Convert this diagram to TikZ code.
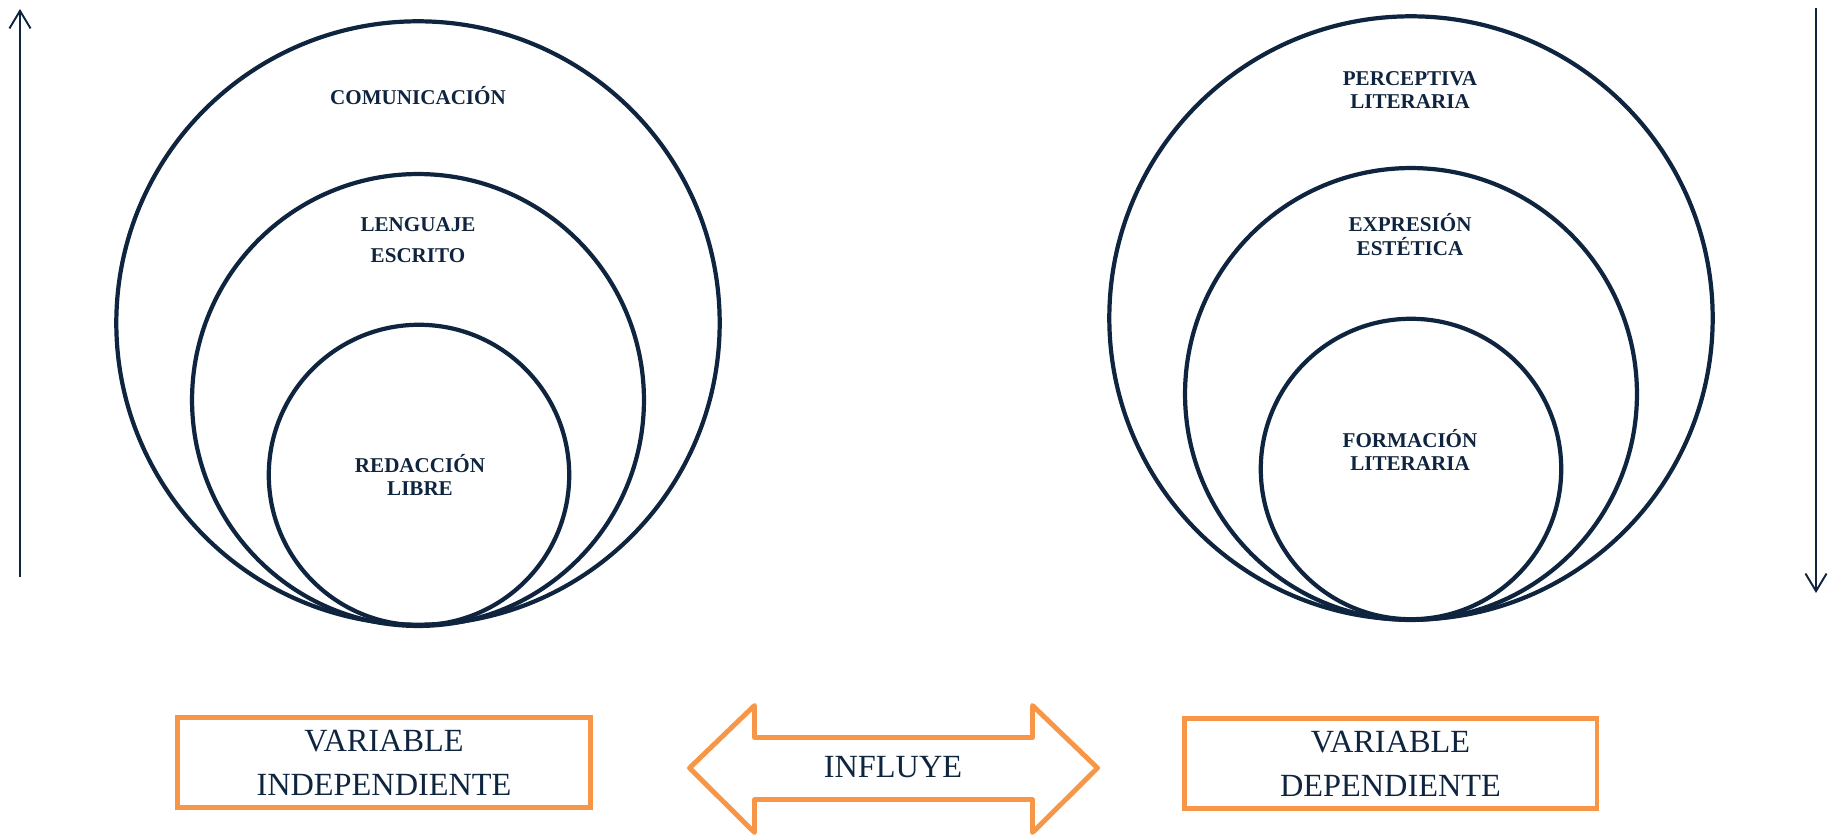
\documentclass[tikz,border=0pt]{standalone}
\usepackage{fontspec}
\setmainfont{Liberation Serif}
\usetikzlibrary{arrows.meta}
\definecolor{navy}{HTML}{0F243E}
\definecolor{naranja}{HTML}{F79646}

\begin{document}
\begin{tikzpicture}[x=0.02cm,y=-0.02cm,
  circ/.style={draw=navy,line width=2.4pt,circle,inner sep=0pt},
  lbl/.style={text=navy,font=\bfseries\fontsize{12}{13.6}\selectfont,align=center},
  varbox/.style={draw=naranja,line width=2.8pt,minimum width=8.26cm,minimum height=1.8cm,
    text=navy,align=center,font=\fontsize{18.4}{25}\selectfont},
  flecha/.style={navy,line width=1.1pt,-{Straight Barb[length=10pt,width=12pt]}}]
  \useasboundingbox (0,0) rectangle (1830,837);

  % variable independiente
  \node[circ,minimum size=12.07cm] (com) at (418,323) {};
  \node[circ,minimum size=9.04cm] (len) at (418,400) {};
  \node[circ,minimum size=6.01cm] (red) at (419,475) {};
  \node[lbl] (comtxt) at (418,96) {COMUNICACIÓN};
  \node[lbl] (lentxt) at (418,240) {LENGUAJE\\[4pt]ESCRITO};
  \node[lbl] (redtxt) at (420,475) {REDACCIÓN\\LIBRE};

  % variable dependiente
  \node[circ,minimum size=12.07cm] (per) at (1411,318) {};
  \node[circ,minimum size=9.04cm] (exp) at (1411,394) {};
  \node[circ,minimum size=6.01cm] (for) at (1411,469) {};
  \node[lbl] (pertxt) at (1410,90) {PERCEPTIVA\\LITERARIA};
  \node[lbl] (exptxt) at (1410,235) {EXPRESIÓN\\ESTÉTICA};
  \node[lbl] (fortxt) at (1410,450) {FORMACIÓN\\LITERARIA};

  % flechas laterales
  \coordinate (izqA) at (20,577);
  \coordinate (izqB) at (20,9);
  \coordinate (derA) at (1816,8);
  \coordinate (derB) at (1816,593);
  \draw[flecha] (izqA) -- (izqB);
  \draw[flecha] (derA) -- (derB);

  % cajas
  \node[varbox] (indep) at (384,762.5) {\raisebox{-4pt}{\parbox{8cm}{\centering VARIABLE\\INDEPENDIENTE}}};
  \node[varbox] (dep) at (1390.5,763.5) {\raisebox{-4pt}{\parbox{8cm}{\centering VARIABLE\\DEPENDIENTE}}};

  % flecha doble
  \draw[naranja,line width=2.8pt,line join=round]
    (689.5,768) -- (754.5,705.5) -- (754.5,737.5) -- (1032.5,737.5) -- (1032.5,705.5)
    -- (1097.5,768) -- (1032.5,832.5) -- (1032.5,799.5) -- (754.5,799.5) -- (754.5,832.5) -- cycle;
  \node[text=navy,font=\fontsize{18.4}{25}\selectfont] (influye) at (893,767) {INFLUYE};
\end{tikzpicture}
\end{document}
